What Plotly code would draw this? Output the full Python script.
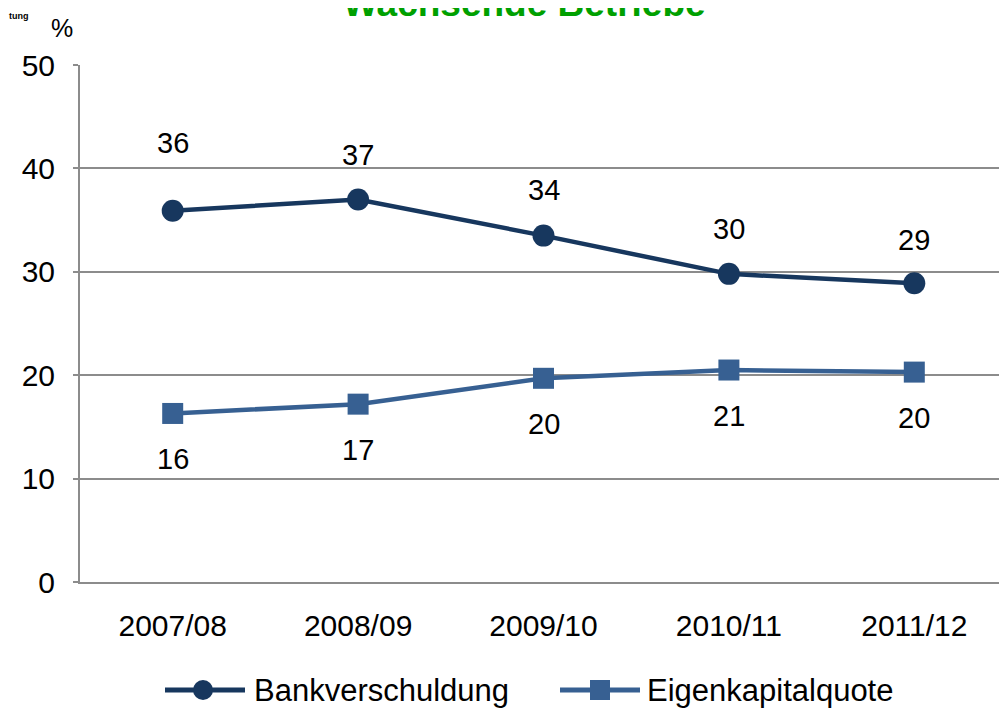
import plotly.graph_objects as go

years = ["2007/08", "2008/09", "2009/10", "2010/11", "2011/12"]
bank = [35.9, 37.0, 33.5, 29.8, 28.9]
bank_labels = [36, 37, 34, 30, 29]
equity = [16.3, 17.2, 19.7, 20.5, 20.3]
equity_labels = [16, 17, 20, 21, 20]

dark = "#17375E"
blue = "#376092"
grid = "#8C8C8C"
font = "Liberation Sans, Arial, sans-serif"

# the page puts the figure 8px in from the top-left corner
off = 8
W, H = 1007 - off, 710 - off
L, T = 80 - off, 65 - off
R, B = 0, 710 - 582
pw, ph = W - L - R, H - T - B


# screen pixel -> paper coords
def px(x):
    return (x - off - L) / pw


def py(y):
    return (582 - y) / ph


fig = go.Figure()
fig.add_trace(go.Scatter(x=years, y=bank, mode="lines+markers", name="Bankverschuldung",
                         line=dict(color=dark, width=4.5),
                         marker=dict(symbol="circle", size=22, color=dark)))
fig.add_trace(go.Scatter(x=years, y=equity, mode="lines+markers", name="Eigenkapitalquote",
                         line=dict(color=blue, width=4.5),
                         marker=dict(symbol="square", size=21, color=blue)))

# data labels
bank_shift = [68, 44, 46, 45, 43]
for x, y, t, s in zip(years, bank, bank_labels, bank_shift):
    fig.add_annotation(x=x, y=y, text=str(t), showarrow=False, yshift=s,
                       font=dict(size=29, color="black", family=font))
for x, y, t in zip(years, equity, equity_labels):
    fig.add_annotation(x=x, y=y, text=str(t), showarrow=False, yshift=-46,
                       font=dict(size=29, color="black", family=font))

# title (cut off at the top like the original) and small texts
fig.add_annotation(xref="paper", yref="paper", x=px(524), y=py(4), text="<b>Wachsende Betriebe</b>",
                   showarrow=False, xanchor="center", yanchor="middle",
                   font=dict(size=37, color="#00A000", family=font))
fig.add_annotation(xref="paper", yref="paper", x=px(62), y=py(28), text="%",
                   showarrow=False, xanchor="center", yanchor="middle",
                   font=dict(size=25, color="black", family=font))
fig.add_annotation(xref="paper", yref="paper", x=px(7), y=py(16), text="<b>tung</b>",
                   showarrow=False, xanchor="left", yanchor="middle",
                   font=dict(size=9, color="black", family=font))

# legend drawn by hand
legend = [("Bankverschuldung", dark, "circle", 165, 245, 203, 252),
          ("Eigenkapitalquote", blue, "rect", 560, 640, 600, 645)]
ly = 690
for name, col, sym, x0, x1, xm, xt in legend:
    fig.add_shape(type="line", xref="paper", yref="paper", x0=px(x0), x1=px(x1), y0=py(ly), y1=py(ly),
                  line=dict(color=col, width=5))
    r = 10
    fig.add_shape(type="circle" if sym == "circle" else "rect", xref="paper", yref="paper",
                  x0=px(xm - r), x1=px(xm + r), y0=py(ly + r), y1=py(ly - r),
                  fillcolor=col, line=dict(color=col, width=0))
    fig.add_annotation(xref="paper", yref="paper", x=px(xt), y=py(ly), text=name,
                       showarrow=False, xanchor="left", yanchor="middle",
                       font=dict(size=31, color="black", family=font))

fig.update_layout(
    width=W, height=H,
    margin=dict(l=L, r=R, t=T, b=B),
    paper_bgcolor="white", plot_bgcolor="white",
    showlegend=False,
    font=dict(family=font, color="black"),
)
fig.update_xaxes(type="category", range=[-0.5, 4.5], showgrid=False,
                 showline=True, linecolor=grid, linewidth=2,
                 tickfont=dict(size=30, color="black"), ticks="", ticklabelstandoff=16)
fig.update_yaxes(range=[0, 50], dtick=10, showgrid=True, gridcolor=grid, gridwidth=2,
                 showline=True, linecolor=grid, linewidth=2, zeroline=False,
                 ticks="outside", ticklen=5, tickcolor=grid, tickwidth=2,
                 tickfont=dict(size=30, color="black"), ticklabelstandoff=12)

fig.write_html("out.html")
